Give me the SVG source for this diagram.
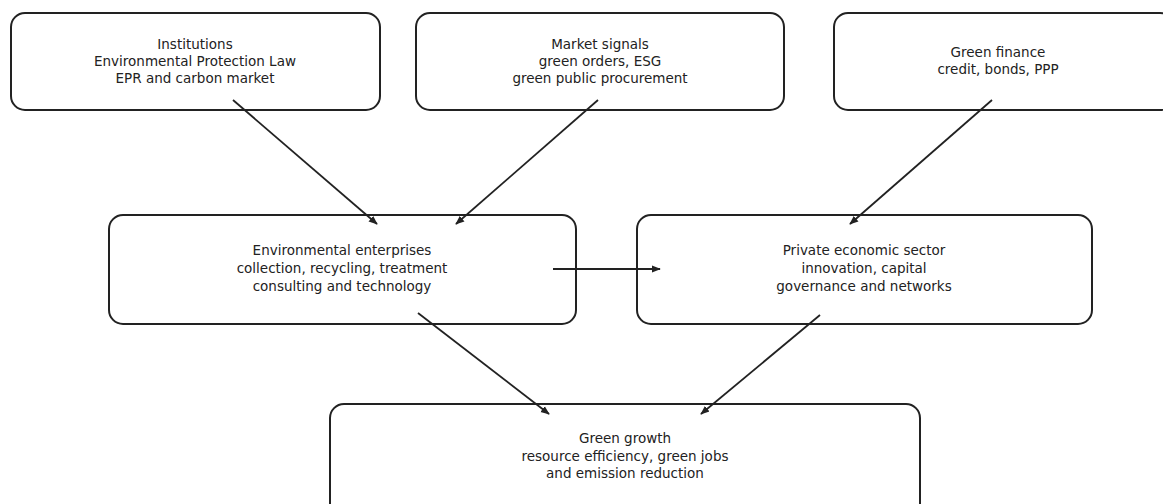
<svg xmlns="http://www.w3.org/2000/svg" width="1163" height="504" viewBox="0 0 1163 504">
<defs>
<marker id="ah" viewBox="0 0 10 10" refX="9" refY="5" markerWidth="9" markerHeight="9" orient="auto" markerUnits="userSpaceOnUse">
<path d="M0,1 L10,5 L0,9 z" fill="#222"/>
</marker>
<style>
.box{fill:#fff;stroke:#222;stroke-width:2}
.t{font-family:"DejaVu Sans",sans-serif;font-size:13.5px;fill:#222;text-anchor:middle}
.c{stroke:#222;stroke-width:1.8;fill:none;marker-end:url(#ah)}
</style>
</defs>
<rect width="1163" height="504" fill="#fff"/>
<g id="n-institutions">
<rect class="box" x="11" y="13" width="369" height="97" rx="14"/>
<text class="t" x="195" y="49">Institutions</text>
<text class="t" x="195" y="66">Environmental Protection Law</text>
<text class="t" x="195" y="83">EPR and carbon market</text>
</g>
<g id="n-market">
<rect class="box" x="416" y="13" width="368" height="97" rx="14"/>
<text class="t" x="600" y="49">Market signals</text>
<text class="t" x="600" y="66">green orders, ESG</text>
<text class="t" x="600" y="83">green public procurement</text>
</g>
<g id="n-finance">
<rect class="box" x="834" y="13" width="340" height="97" rx="14"/>
<text class="t" x="998" y="57">Green finance</text>
<text class="t" x="998" y="74">credit, bonds, PPP</text>
</g>
<g id="n-env">
<rect class="box" x="109" y="215" width="467" height="109" rx="14"/>
<text class="t" x="342" y="255">Environmental enterprises</text>
<text class="t" x="342" y="273">collection, recycling, treatment</text>
<text class="t" x="342" y="291">consulting and technology</text>
</g>
<g id="n-private">
<rect class="box" x="637" y="215" width="455" height="109" rx="14"/>
<text class="t" x="864" y="255">Private economic sector</text>
<text class="t" x="864" y="273">innovation, capital</text>
<text class="t" x="864" y="291">governance and networks</text>
</g>
<g id="n-growth">
<rect class="box" x="330" y="404" width="590" height="120" rx="14"/>
<text class="t" x="625" y="443">Green growth</text>
<text class="t" x="625" y="461">resource efficiency, green jobs</text>
<text class="t" x="625" y="478">and emission reduction</text>
</g>
<g id="connectors">
<line class="c" x1="233" y1="100" x2="377" y2="224"/>
<line class="c" x1="598" y1="100" x2="456" y2="224"/>
<line class="c" x1="992" y1="100" x2="850" y2="224"/>
<line class="c" x1="553" y1="269" x2="660" y2="269"/>
<line class="c" x1="418" y1="313" x2="549" y2="414"/>
<line class="c" x1="820" y1="315" x2="701" y2="414"/>
</g>
</svg>
